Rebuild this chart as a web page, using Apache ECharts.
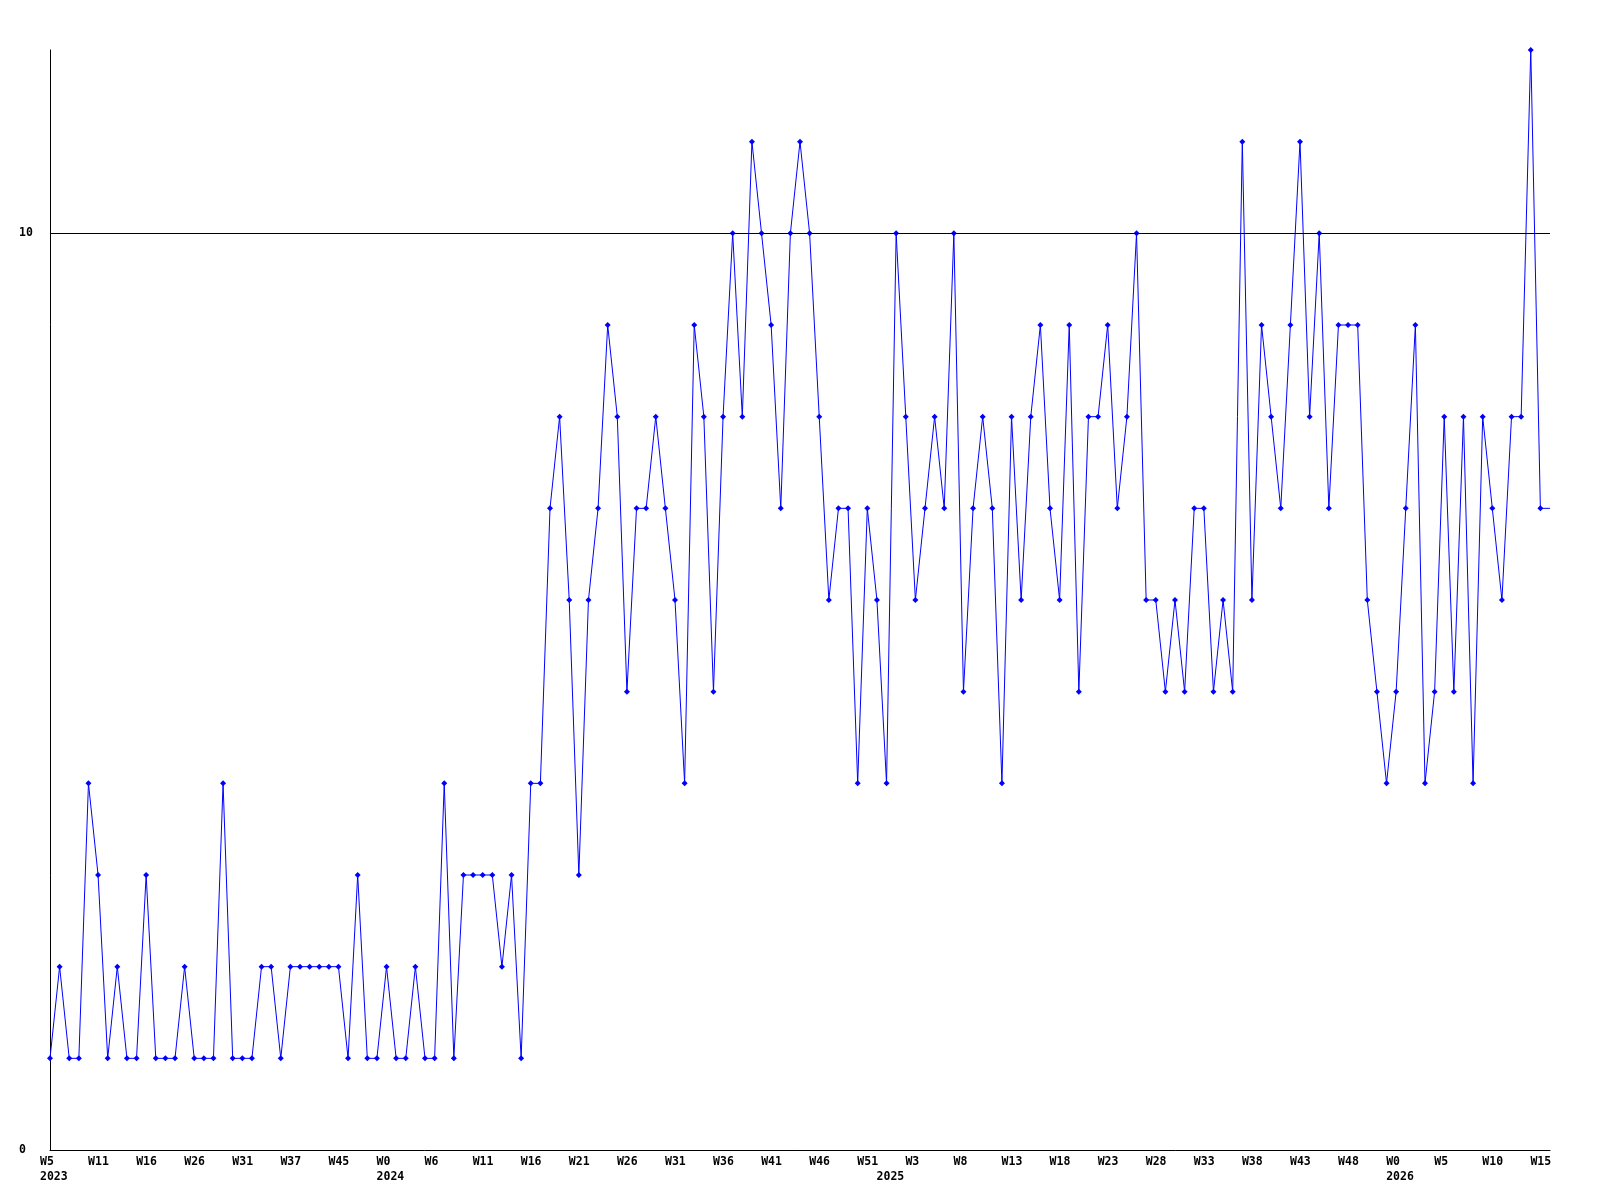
<!DOCTYPE html>
<html>
<head>
<meta charset="utf-8">
<script src="https://cdn.jsdelivr.net/npm/echarts@6/dist/echarts.min.js"></script>
<style>
html,body{margin:0;padding:0;background:#fff;}
#chart{width:1600px;height:1200px;}
</style>
</head>
<body>
<div id="chart"></div>
<script>
// Weekly values, one per category
const weeklyValues = [
  1,2,1,1,4,3,1,2,1,1,
  3,1,1,1,2,1,1,1,4,1,
  1,1,2,2,1,2,2,2,2,2,
  2,1,3,1,1,2,1,1,2,1,
  1,4,1,3,3,3,3,2,3,1,
  4,4,7,8,6,3,6,7,9,8,
  5,7,7,8,7,6,4,9,8,5,
  8,10,8,11,10,9,7,10,11,10,
  8,6,7,7,4,7,6,4,10,8,
  6,7,8,7,10,5,7,8,7,4,
  8,6,8,9,7,6,9,5,8,8,
  9,7,8,10,6,6,5,6,5,7,
  7,5,6,5,11,6,9,8,7,9,
  11,8,10,7,9,9,9,6,5,4,
  5,7,9,4,5,8,5,8,4,8,
  7,6,8,8,12,7
];
// The line continues (without a marker) to the end of the axis
const trailingValue = 7;

// Week tick labels, one every 5 categories
const weekTickLabels = ['W5','W11','W16','W26','W31','W37','W45','W0','W6','W11','W16','W21','W26','W31','W36','W41','W46','W51','W3','W8','W13','W18','W23','W28','W33','W38','W43','W48','W0','W5','W10','W15'];
const tickEvery = 5;

// Year labels and the category index where each year starts
const yearLabels = ['2023','2024','2025','2026'];
const yearStartIndex = [0, 35, 87, 140];

// Y axis labels and reference line
const yTickLabels = [0, 10];
const thresholdValue = 10;

const total = weeklyValues.length + 1;
const categories = [];
for (let i = 0; i < total; i++) categories.push(String(i));

const seriesData = weeklyValues.map(v => ({ value: v }));
seriesData.push({ value: trailingValue, symbol: 'none' });

function labelFor(index) {
  let week = '';
  if (index % tickEvery === 0) {
    const w = weekTickLabels[index / tickEvery];
    if (w !== undefined) week = w;
  }
  const yi = yearStartIndex.indexOf(index);
  if (yi >= 0) return (week || ' ') + '\n' + yearLabels[yi];
  return week;
}

const chart = echarts.init(document.getElementById('chart'), null, { renderer: 'canvas' });
chart.setOption({
  animation: false,
  backgroundColor: '#ffffff',
  grid: { left: 50, right: 50, top: 50, bottom: 50, containLabel: false },
  xAxis: {
    type: 'category',
    data: categories,
    boundaryGap: false,
    axisLine: { show: true, lineStyle: { color: '#000', width: 1 } },
    axisTick: { show: false },
    splitLine: { show: false },
    axisLabel: {
      interval: (index) => labelFor(index) !== '',
      formatter: (value, index) => labelFor(index),
      align: 'left',
      padding: [0, 0, 0, -10],
      margin: 5,
      color: '#000',
      fontFamily: 'DejaVu Sans Mono',
      fontWeight: 'bold',
      fontSize: 11.5,
      lineHeight: 14.5
    }
  },
  yAxis: {
    type: 'value',
    min: 0,
    max: 12,
    interval: 2,
    axisLine: { show: true, lineStyle: { color: '#000', width: 1 } },
    axisTick: { show: false },
    splitLine: { show: false },
    axisLabel: {
      formatter: (v) => yTickLabels.indexOf(v) >= 0 ? String(v) : '',
      align: 'left',
      margin: 31,
      padding: [3, 0, 0, 0],
      color: '#000',
      fontFamily: 'DejaVu Sans Mono',
      fontWeight: 'bold',
      fontSize: 11.5
    }
  },
  series: [{
    type: 'line',
    data: seriesData,
    symbol: 'diamond',
    symbolSize: 6,
    showAllSymbol: true,
    lineStyle: { color: '#0000ff', width: 1 },
    itemStyle: { color: '#0000ff' },
    markLine: {
      silent: true,
      symbol: 'none',
      label: { show: false },
      lineStyle: { color: '#000', type: 'solid', width: 1 },
      data: [{ yAxis: thresholdValue }]
    }
  }]
});
</script>
</body>
</html>
